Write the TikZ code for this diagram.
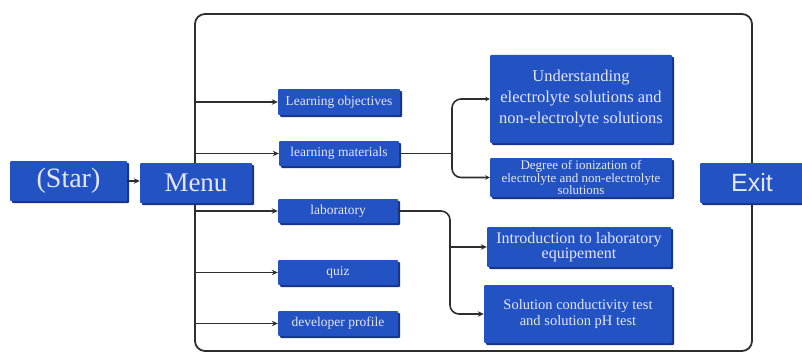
\documentclass[tikz,border=0pt]{standalone}
\usepackage{fontspec}
\setmainfont{Liberation Serif}
\newfontfamily\sansf{Liberation Sans}
\usetikzlibrary{arrows.meta,shadows}
\definecolor{boxblue}{HTML}{2352C2}
\definecolor{boxdark}{HTML}{163489}
\definecolor{txtc}{HTML}{E4E6FF}
\definecolor{linec}{HTML}{2E2E2E}
\begin{document}
\begin{tikzpicture}[x=1pt,y=-1pt,
  box/.style={fill=boxblue, text=txtc, inner sep=1pt, align=center, rounded corners=1pt,
    drop shadow={shadow xshift=2pt, shadow yshift=-2pt, fill=boxdark, opacity=1}},
  small/.style={box, minimum width=120pt, minimum height=25pt, font=\fontsize{13.5}{13.5}\selectfont},
  conn/.style={draw=linec, line width=1.6pt},
  arr/.style={conn, -{Stealth[length=6pt,width=5.5pt]}},
  frm/.style={draw=linec, line width=1.8pt, rounded corners=10pt, inner sep=0pt}
]
\useasboundingbox (0,0) rectangle (802,353);
\clip (0,0) rectangle (802,353);

% frame
\node[frm, minimum width=557pt, minimum height=337pt] (frame) at (473.5,182.5) {};

% start and menu
\node[box, minimum width=117pt, minimum height=40pt, font=\fontsize{28}{28}\selectfont] (star) at (68.5,181) {(Star)};
\node[box, minimum width=112pt, minimum height=40pt, font=\fontsize{27}{27}\selectfont] (menu) at (196,183) {Menu};

% menu items
\node[small, minimum width=122pt, minimum height=26pt] (lo) at (339,102) {Learning objectives};
\node[small] (lm) at (339,153.5) {learning materials};
\node[small, minimum height=24pt] (lab) at (338,211) {laboratory};
\node[small] (quiz) at (338,272.5) {quiz};
\node[small] (dev) at (338,323.5) {developer profile};

% sub items
\node[box, minimum width=182pt, minimum height=88pt, font=\fontsize{16.5}{21}\selectfont] (und) at (581,99)
  {Understanding\\electrolyte solutions and\\non-electrolyte solutions};
\node[box, minimum width=182pt, minimum height=39pt, font=\fontsize{13}{12.5}\selectfont] (deg) at (581,177.5)
  {Degree of ionization of\\electrolyte and non-electrolyte\\solutions};
\node[box, minimum width=184pt, minimum height=40pt, font=\fontsize{16}{14}\selectfont] (intro) at (579,247)
  {Introduction to laboratory\\equipement};
\node[box, minimum width=188pt, minimum height=58pt, font=\fontsize{14.5}{16}\selectfont] (sol) at (578,314)
  {Solution conductivity test\\and solution pH test};

% exit
\node[box, minimum width=104pt, minimum height=40pt, font=\sansf\fontsize{25}{25}\selectfont] (exit) at (752,183) {Exit};

% connectors
\draw[arr] (star.east) -- (star.east -| menu.west);
\foreach \n in {lo,lm,lab,quiz,dev}
  \draw[arr] (frame.west |- \n.west) -- (\n.west);

\coordinate (b1) at (452,153.5);
\draw[conn, rounded corners=9pt, {Stealth[length=4.5pt,width=4.5pt]}-{Stealth[length=4.5pt,width=4.5pt]}]
  (und.west) -| (b1 |- deg.west) -- (deg.west);
\draw[conn] (lm.east) -- (b1);

\coordinate (b2) at (450,211);
\draw[arr, rounded corners=9pt] (lab.east) -| (b2 |- sol.west) -- (sol.west);
\draw[arr] (b2 |- intro.west) -- (intro.west);
\end{tikzpicture}
\end{document}
